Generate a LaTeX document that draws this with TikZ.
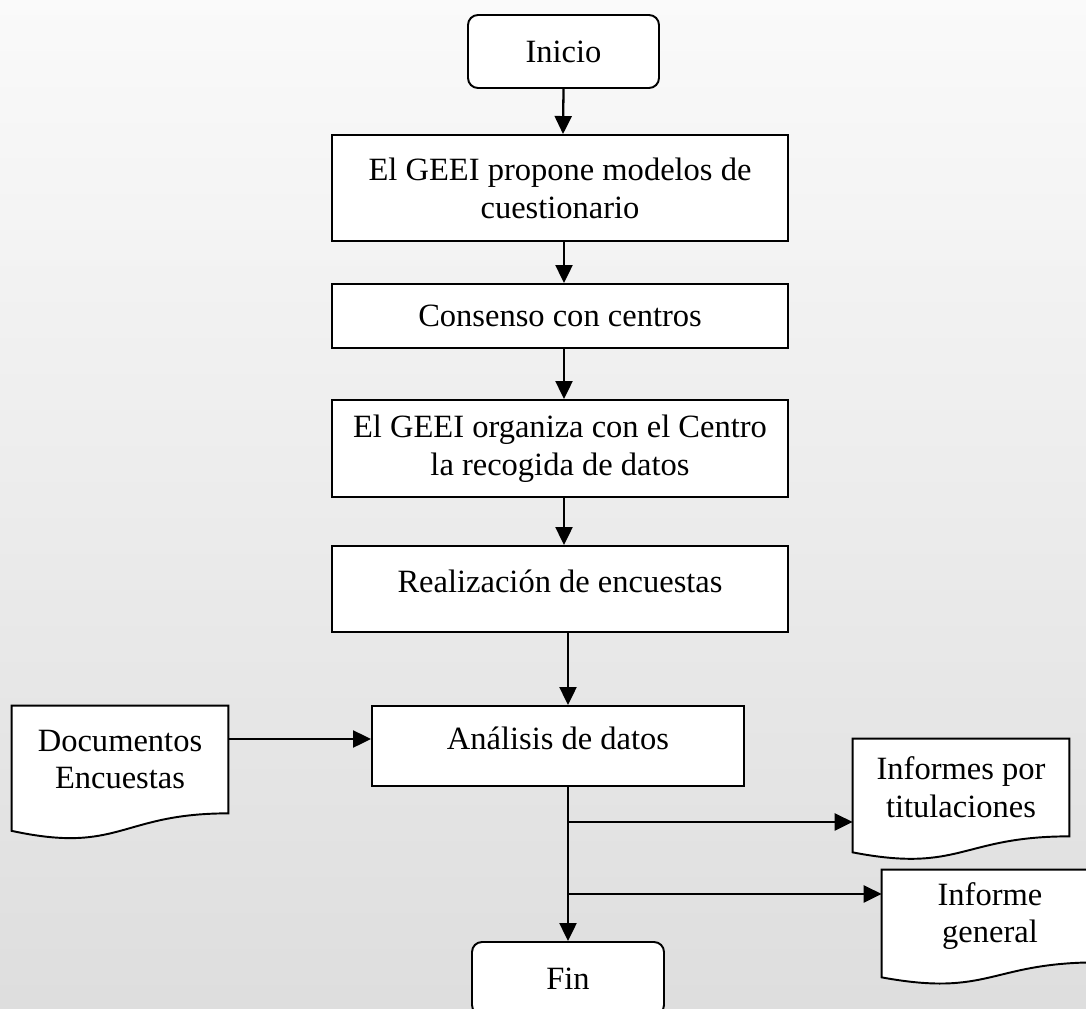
\documentclass[tikz,border=0pt]{standalone}
\usepackage{fontspec}
\setmainfont{Liberation Serif}
\usetikzlibrary{arrows.meta,calc,positioning,backgrounds}

% outline of a document symbol: node name, left drop, wave dip
\newcommand{\docoutline}[3]{%
  \draw[line width=1.1pt, fill=white] (#1.north west) -- (#1.north east) -- (#1.south east)
    .. controls (#1.south) and ([yshift=-#3]#1.south) .. ([yshift=-#2]#1.south west) -- cycle;}

\begin{document}
\begin{tikzpicture}[
  flow/.style={font=\fontsize{18.5}{21.5}\selectfont, align=center},
  stepbox/.style={flow, draw, line width=1.1pt, fill=white, minimum width=9.12cm},
  terminal/.style={flow, draw, line width=1.1pt, fill=white, rounded corners=0.2cm, minimum width=3.82cm, minimum height=1.46cm},
  doc/.style={flow, minimum width=4.32cm},
  arr/.style={line width=1.3pt, -{Triangle[length=0.36cm,width=0.34cm]}}]

  \useasboundingbox (0,0) rectangle (21.72,-20.16);
  \clip (0,0) rectangle (21.72,-20.16);

  \node[terminal] (inicio) at (11.27,-1.03) {Inicio};
  \node[stepbox, minimum height=2.12cm] (propone) at (11.2,-3.76) {El GEEI propone modelos de\\cuestionario};
  \node[stepbox, minimum height=1.28cm] (consenso) at (11.2,-6.32) {Consenso con centros};
  \node[stepbox, minimum height=1.94cm] (organiza) at (11.2,-8.97) {El GEEI organiza con el Centro\\la recogida de datos};
  \node[stepbox, minimum height=1.72cm, text depth=0.3cm] (encuestas) at (11.2,-11.78) {Realización de encuestas};
  \node[stepbox, minimum width=7.44cm, minimum height=1.6cm, text depth=0.3cm] (analisis) at (11.16,-14.92) {Análisis de datos};
  \node[terminal, minimum width=3.84cm] (fin) at (11.36,-19.57) {Fin};

  % documents
  \node[doc, minimum height=2.14cm] (docs) at (2.4,-15.19) {Documentos\\Encuestas};
  \node[doc, minimum height=1.94cm] (informes) at (19.22,-15.75) {Informes por\\titulaciones};
  \node[doc, minimum height=1.84cm] (general) at (19.8,-18.32) {Informe\\general};

  \begin{pgfonlayer}{background}
    \shade[top color=black!2, bottom color=black!13] (0,0) rectangle (21.72,-20.16);
    \docoutline{docs}{0.35cm}{0.82cm}
    \docoutline{informes}{0.32cm}{0.74cm}
    \docoutline{general}{0.3cm}{0.7cm}
  \end{pgfonlayer}

  \draw[arr] (inicio.south) -- ([xshift=0.06cm]propone.north);
  \draw[arr] ([xshift=0.08cm]propone.south) -- ([xshift=0.08cm]consenso.north);
  \draw[arr] ([xshift=0.08cm]consenso.south) -- ([xshift=0.08cm]organiza.north);
  \draw[arr] ([xshift=0.08cm]organiza.south) -- ([xshift=0.08cm]encuestas.north);
  \draw[arr] ([xshift=0.16cm]encuestas.south) -- ([xshift=0.2cm]analisis.north);

  \coordinate (in5) at ([yshift=0.14cm]analisis.west);
  \draw[arr] (in5 -| docs.east) -- (in5);

  \coordinate (b1) at ($(analisis.south)+(0.2,-0.7)$);
  \coordinate (b2) at ($(analisis.south)+(0.2,-2.14)$);
  \draw[arr] ([xshift=0.2cm]analisis.south) -- (fin.north);
  \draw[arr] (b1) -- (b1 -| informes.west);
  \draw[arr] (b2) -- (b2 -| general.west);
\end{tikzpicture}
\end{document}
